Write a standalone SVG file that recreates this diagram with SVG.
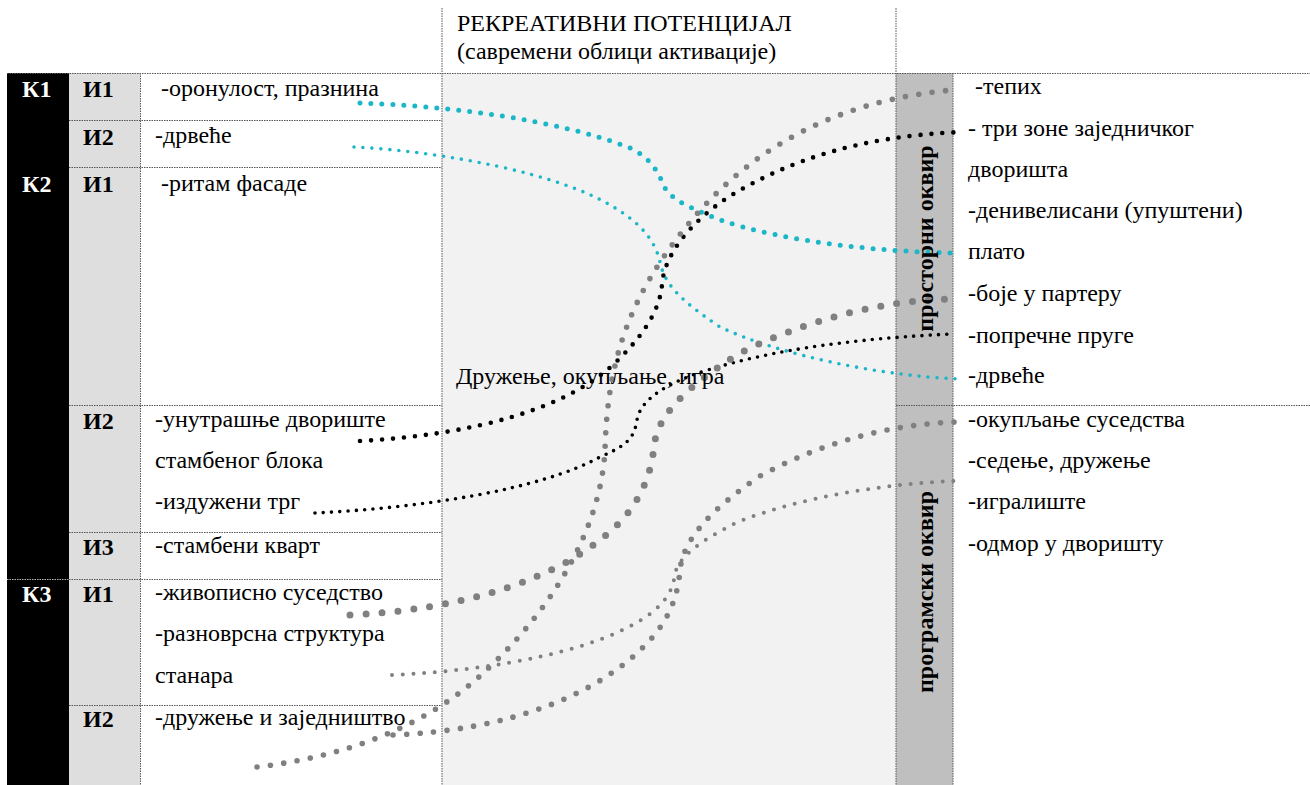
<svg xmlns="http://www.w3.org/2000/svg" width="1310" height="785" viewBox="0 0 1310 785">
<style>
text{font-family:"Liberation Serif","Times New Roman",serif;font-size:24px;fill:#000}
.b{font-weight:bold}
.w{fill:#fff}
.sep{stroke:#555;stroke-width:1;stroke-dasharray:1.5 1;fill:none}
.sepw{stroke:#bbb;stroke-width:1;stroke-dasharray:1.5 1;fill:none}
.c{fill:none;stroke-linecap:round}
.cyanL{stroke:#1cb6c9;stroke-width:5;stroke-dasharray:0 11}
.cyanS{stroke:#1cb6c9;stroke-width:3.6;stroke-dasharray:0 9}
.blkL{stroke:#000;stroke-width:4.6;stroke-dasharray:0 11}
.blkS{stroke:#000;stroke-width:3.6;stroke-dasharray:0 8.3}
.grL{stroke:#808080;stroke-width:7;stroke-dasharray:0 16}
.grM{stroke:#808080;stroke-width:5.6;stroke-dasharray:0 13.5}
.grS{stroke:#808080;stroke-width:4;stroke-dasharray:0 10.7}
</style>
<rect width="1310" height="785" fill="#fff"/>
<g id="table">
<rect x="7" y="73" width="62" height="712" fill="#000"/>
<rect x="69" y="73" width="71" height="712" fill="#dedede"/>
<rect x="442" y="73" width="454" height="712" fill="#f2f2f2"/>
<rect x="896" y="73" width="57" height="712" fill="#bfbfbf"/>
<line class="sep" x1="7" y1="73.5" x2="1310" y2="73.5"/>
<line class="sep" x1="69" y1="120.5" x2="442" y2="120.5"/>
<line class="sep" x1="69" y1="167.5" x2="442" y2="167.5"/>
<line class="sep" x1="69" y1="405.5" x2="442" y2="405.5"/>
<line class="sep" x1="69" y1="532.5" x2="442" y2="532.5"/>
<line class="sepw" x1="7" y1="579.5" x2="69" y2="579.5"/>
<line class="sep" x1="69" y1="579.5" x2="442" y2="579.5"/>
<line class="sep" x1="69" y1="705.5" x2="442" y2="705.5"/>
<line class="sep" x1="896" y1="405.5" x2="1310" y2="405.5"/>
<line class="sep" x1="140.5" y1="73" x2="140.5" y2="785"/>
<line class="sep" x1="442" y1="8" x2="442" y2="785"/>
<line class="sep" x1="896" y1="8" x2="896" y2="785"/>
<line class="sep" x1="953" y1="73" x2="953" y2="785"/>
</g>
<g id="header">
<text x="457" y="31">РЕКРЕАТИВНИ ПОТЕНЦИЈАЛ</text>
<text x="457" y="59">(савремени облици активације)</text>
</g>
<g id="k1">
<text class="b w" x="22" y="97">К1</text>
<text class="b" x="83" y="97">И1</text>
<text x="161" y="96">-оронулост, празнина</text>
<text class="b" x="83" y="145">И2</text>
<text x="155" y="143">-дрвеће</text>
</g>
<g id="k2">
<text class="b w" x="22" y="192">К2</text>
<text class="b" x="83" y="192">И1</text>
<text x="161" y="191">-ритам фасаде</text>
<text class="b" x="83" y="429">И2</text>
<text x="155" y="427">-унутрашње двориште</text>
<text x="155" y="468">стамбеног блока</text>
<text x="155" y="509">-издужени трг</text>
<text class="b" x="83" y="555">И3</text>
<text x="155" y="553">-стамбени кварт</text>
</g>
<g id="k3">
<text class="b w" x="22" y="602">К3</text>
<text class="b" x="83" y="602">И1</text>
<text x="155" y="600">-живописно суседство</text>
<text x="155" y="641">-разноврсна структура</text>
<text x="155" y="683">станара</text>
<text class="b" x="83" y="727">И2</text>
<text x="155" y="725">-дружење и заједништво</text>
</g>
<g id="connectors">
<path class="c cyanL" d="M360,103 C450,106 560,120 630,148 C655,160 660,178 665,188 C672,200 690,208 720,220 C785,242 880,252 957,253"/>
<path class="c cyanS" d="M354,147 C450,152 560,175 610,205 C640,222 655,240 660,262 C665,285 680,300 720,327 C780,355 880,376 960,379"/>
<path class="c blkL" d="M360,441 C470,435 570,410 620,358 C650,328 660,305 662,285 C664,255 690,222 730,196 C790,160 860,136 962,132"/>
<path class="c blkS" d="M315,513 C420,508 540,490 600,457 C628,445 634,438 637,420 C640,402 660,388 690,376 C740,358 820,340 952,334"/>
<path class="c grL" d="M350,615 C460,610 560,580 615,527 C640,503 651,475 654,447 C657,415 685,388 740,353 C800,323 880,299 957,299"/>
<path class="c grM" d="M257,767 C340,757 420,730 480,676 C540,622 600,540 605,450 C607,380 620,320 665,255 C710,190 790,105 952,90"/>
<path class="c grM" d="M393,735 C510,730 600,695 650,640 C670,618 678,595 680,570 C683,540 710,510 760,476 C820,443 890,424 957,422"/>
<path class="c grS" d="M392,675 C500,670 600,650 650,614 C668,600 673,588 675,574 C678,558 700,540 740,521 C800,498 880,484 955,481"/>
</g>
<g id="middle-label">
<text x="456" y="384">Дружење, окупљање, игра</text>
</g>
<g id="prostorni">
<text class="b" text-anchor="middle" transform="translate(933,238.5) rotate(-90)">просторни оквир</text>
<text x="975" y="94">-тепих</text>
<text x="968" y="136">- три зоне заједничког</text>
<text x="968" y="177">дворишта</text>
<text x="968" y="218">-денивелисани (упуштени)</text>
<text x="968" y="259">плато</text>
<text x="968" y="301">-боје у партеру</text>
<text x="968" y="343">-попречне пруге</text>
<text x="968" y="383">-дрвеће</text>
</g>
<g id="programski">
<text class="b" text-anchor="middle" transform="translate(933,592) rotate(-90)">програмски оквир</text>
<text x="968" y="427">-окупљање суседства</text>
<text x="968" y="468">-седење, дружење</text>
<text x="968" y="509">-игралиште</text>
<text x="968" y="551">-одмор у дворишту</text>
</g>
</svg>
